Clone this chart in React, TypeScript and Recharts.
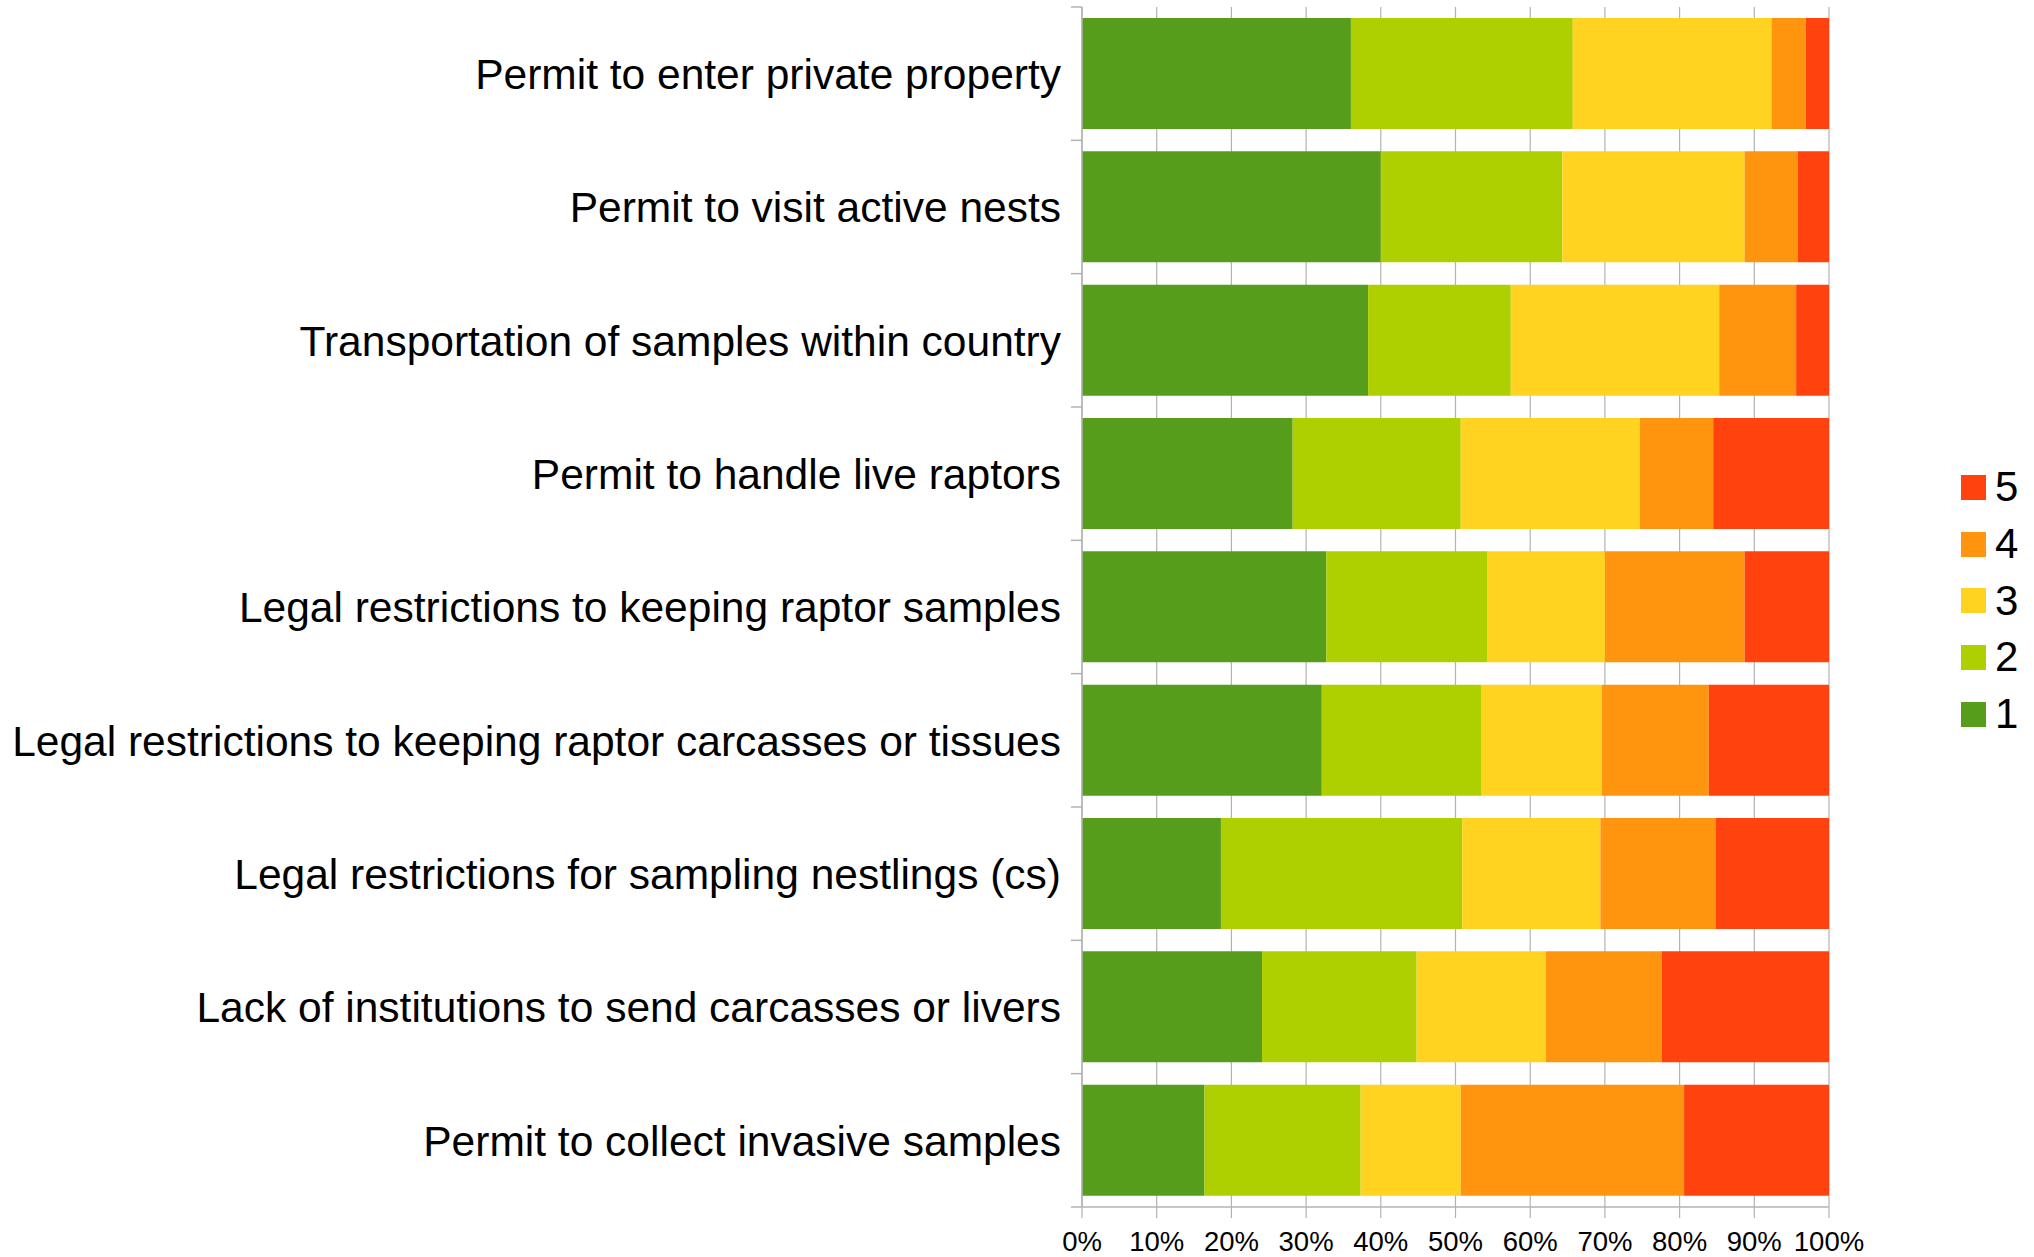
import { BarChart, Bar, XAxis, YAxis, CartesianGrid, Legend } from "recharts";

const categories = [
  "Permit to enter private property",
  "Permit to visit active nests",
  "Transportation of samples within country",
  "Permit to handle live raptors",
  "Legal restrictions to keeping raptor samples",
  "Legal restrictions to keeping raptor carcasses or tissues",
  "Legal restrictions for sampling nestlings (cs)",
  "Lack of institutions to send carcasses or livers",
  "Permit to collect invasive samples",
];

// share of answers per score (percent of row)
const score1 = [36.0, 40.0, 38.3, 28.2, 32.7, 32.1, 18.6, 24.1, 16.4];
const score2 = [29.7, 24.3, 19.1, 22.5, 21.6, 21.4, 32.3, 20.7, 20.9];
const score3 = [26.6, 24.4, 27.9, 24.0, 15.7, 16.1, 18.5, 17.3, 13.4];
const score4 = [4.6, 7.1, 10.3, 9.8, 18.7, 14.3, 15.4, 15.5, 29.9];
const score5 = [3.1, 4.2, 4.4, 15.5, 11.3, 16.1, 15.2, 22.4, 19.4];

const seriesNames = ["1", "2", "3", "4", "5"];
const seriesColors = ["#579d1c", "#aecf00", "#ffd320", "#ff950e", "#ff420e"];
const xTicks = [0, 10, 20, 30, 40, 50, 60, 70, 80, 90, 100];

const scores = [score1, score2, score3, score4, score5];
const data = categories.map((name, i) => {
  const row: Record<string, string | number> = { name };
  seriesNames.forEach((s, k) => {
    row[s] = scores[k][i];
  });
  return row;
});

const W = 2034;
const H = 1257;
const PLOT_LEFT = 1082;
const PLOT_TOP = 7;
const PLOT_BOTTOM = 1207;
const BAND = (PLOT_BOTTOM - PLOT_TOP) / categories.length;
const GRID = "#b3b3b3";

const CategoryTick = (props: any) => {
  const { y, payload, index } = props;
  return (
    <g>
      <text x={PLOT_LEFT - 21} y={y} dy="0.36em" textAnchor="end" fontSize={42.5} fill="#000">
        {payload.value}
      </text>
      <line x1={PLOT_LEFT - 11} x2={PLOT_LEFT} y1={y - BAND / 2} y2={y - BAND / 2} stroke={GRID} strokeWidth={1.5} />
      {index === categories.length - 1 && (
        <line x1={PLOT_LEFT - 11} x2={PLOT_LEFT} y1={y + BAND / 2} y2={y + BAND / 2} stroke={GRID} strokeWidth={1.5} />
      )}
    </g>
  );
};

const renderLegend = (props: any) => {
  const items = [...(props.payload || [])].sort((a, b) => Number(b.value) - Number(a.value));
  return (
    <div style={{ paddingLeft: 132 }}>
      {items.map((entry) => (
        <div key={entry.value} style={{ display: "flex", alignItems: "center", height: 56.7 }}>
          <span style={{ display: "inline-block", width: 25, height: 25, background: entry.color, marginRight: 9 }} />
          <span style={{ fontSize: 42, lineHeight: 1, color: "#000" }}>{entry.value}</span>
        </div>
      ))}
    </div>
  );
};

export default function App() {
  return (
    <div
      style={{
        position: "absolute",
        left: 0,
        top: 0,
        width: W,
        height: H,
        background: "#fff",
        fontFamily: "'Liberation Sans', Arial, sans-serif",
      }}
    >
      <BarChart
        width={W}
        height={H}
        data={data}
        layout="vertical"
        margin={{ top: PLOT_TOP, right: 0, bottom: 0, left: 0 }}
        barSize={111}
      >
        <CartesianGrid horizontal={false} stroke={GRID} strokeWidth={1.2} />
        <XAxis
          type="number"
          domain={[0, 100]}
          ticks={xTicks}
          tickFormatter={(v) => `${v}%`}
          height={50}
          tickSize={11}
          tickMargin={13}
          axisLine={{ stroke: GRID, strokeWidth: 1.5 }}
          tickLine={{ stroke: GRID, strokeWidth: 1.2 }}
          tick={{ fontSize: 27.5, fill: "#000" }}
          interval={0}
        />
        <XAxis
          xAxisId="top"
          orientation="top"
          type="number"
          domain={[0, 100]}
          height={0}
          tick={false}
          tickLine={false}
          axisLine={{ stroke: GRID, strokeWidth: 1.5 }}
        />
        <YAxis
          type="category"
          dataKey="name"
          width={PLOT_LEFT}
          axisLine={{ stroke: GRID, strokeWidth: 1.5 }}
          tickLine={false}
          tick={<CategoryTick />}
          interval={0}
        />
        <Legend
          layout="vertical"
          align="right"
          verticalAlign="middle"
          width={205}
          wrapperStyle={{ top: 459 }}
          content={renderLegend}
        />
        {seriesNames.map((s, k) => (
          <Bar key={s} dataKey={s} name={s} stackId="a" fill={seriesColors[k]} isAnimationActive={false} />
        ))}
      </BarChart>
    </div>
  );
}
